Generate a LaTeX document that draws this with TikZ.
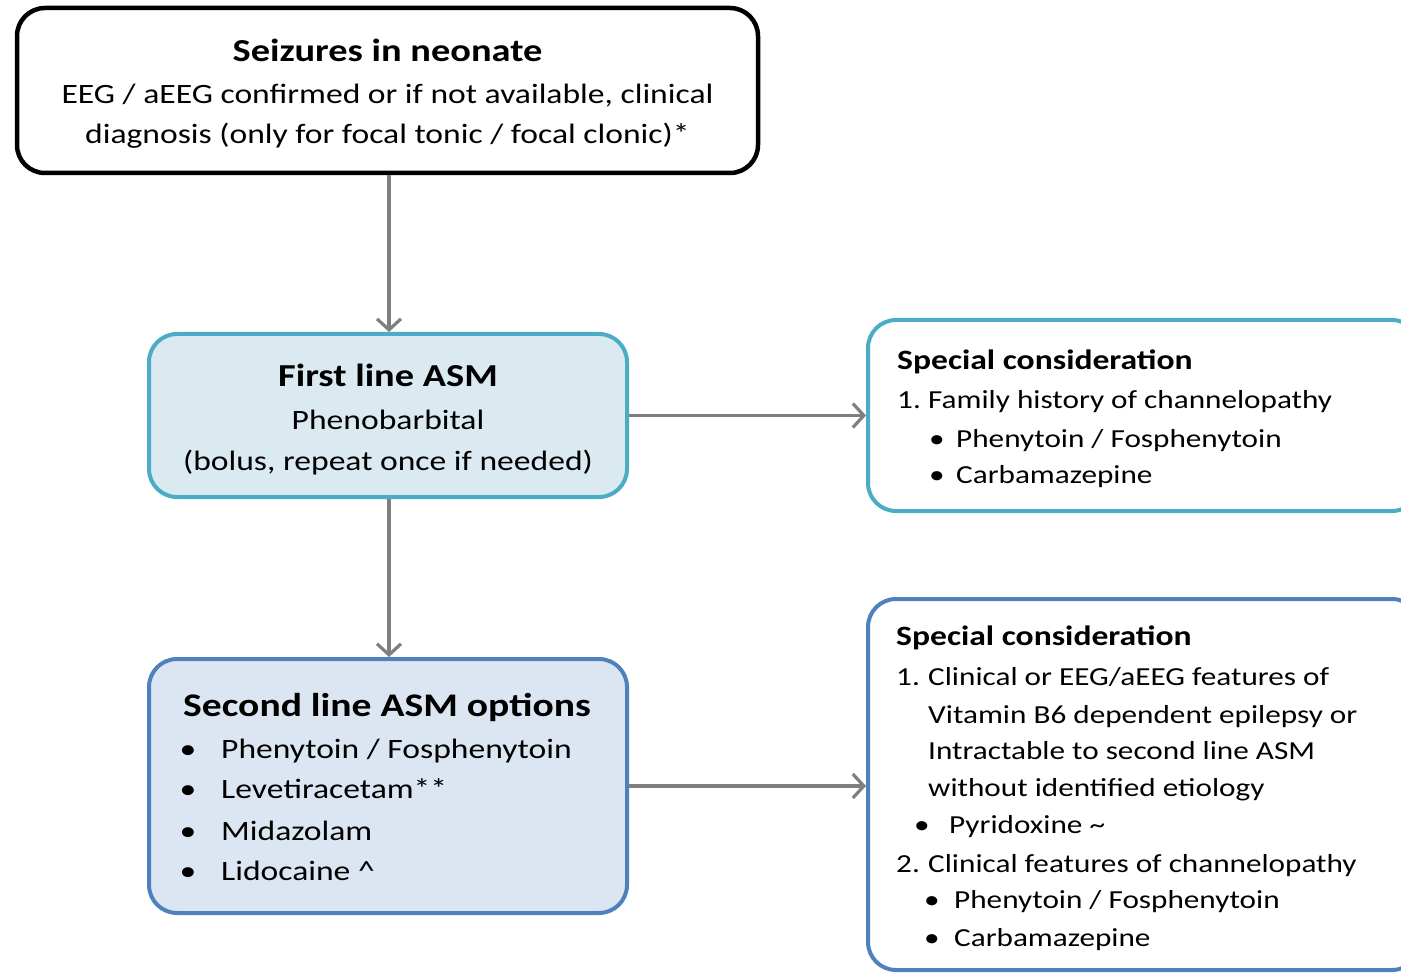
\documentclass[tikz,border=0pt]{standalone}
\usepackage{fontspec}
\setmainfont{Carlito}[FakeStretch=1.2]
\usetikzlibrary{arrows.meta}
\definecolor{tealB}{HTML}{4BACC6}
\definecolor{blueB}{HTML}{4F81BD}
\definecolor{fillA}{HTML}{DAEAF0}
\definecolor{fillB}{HTML}{DCE6F2}
\definecolor{arrowgray}{HTML}{7F7F7F}
\begin{document}
\begin{tikzpicture}[x=1pt,y=-1pt,
  box/.style={draw, line width=4pt, rounded corners=28pt, inner sep=0pt},
  conn/.style={draw=arrowgray, line width=3.5pt, -{Straight Barb[length=11pt,width=24pt,line width=3.2pt]}},
  ctxt/.style={anchor=base, inner sep=0pt},
  ltxt/.style={anchor=base west, inner sep=0pt},
  bigb/.style={font=\bfseries\fontsize{32}{37}\selectfont},
  bodyL/.style={font=\fontsize{28}{34}\selectfont},
  titR/.style={font=\bfseries\fontsize{28}{33}\selectfont},
  bodyR/.style={font=\fontsize{26}{31}\selectfont}]
\path[use as bounding box] (0,0) rectangle (1401,976);
\clip (0,0) rectangle (1401,976);
% boxes
\node[box, draw=black, line width=4.5pt, fill=white, minimum width=741pt, minimum height=165pt] (seiz) at (387.5,90.5) {};
\node[box, draw=tealB, fill=fillA, minimum width=478pt, minimum height=163pt] (first) at (388,415.5) {};
\node[box, draw=tealB, fill=white, minimum width=552pt, minimum height=191pt] (sc1) at (1144,415.5) {};
\node[box, draw=blueB, fill=fillB, minimum width=478pt, minimum height=254pt] (second) at (388,786) {};
\node[box, draw=blueB, fill=white, minimum width=552pt, minimum height=371pt] (sc2) at (1144,784.5) {};
% connectors
\draw[conn] (seiz.south -| 389,0) -- (389,0 |- first.north);
\draw[conn] (first.east) -- (first.east -| sc1.west);
\draw[conn] (389,0 |- first.south) -- (389,0 |- second.north);
\draw[conn] (second.east) -- (second.east -| sc2.west);
% box 1 text
\node[ctxt, bigb] (t1a) at (387.5,62) {Seizures in neonate};
\node[ctxt, bodyL] (t1b) at (387.5,104) {EEG / aEEG confirmed or if not available, clinical};
\node[ctxt, bodyL] (t1c) at (387.5,144) {diagnosis (only for focal tonic / focal clonic)*};
% box 2 text
\node[ctxt, bigb] (t2a) at (388,387) {First line ASM};
\node[ctxt, bodyL] (t2b) at (388,429) {Phenobarbital};
\node[ctxt, bodyL] (t2c) at (388,470) {(bolus, repeat once if needed)};
% box 4 text
\node[ltxt, font=\bfseries\fontsize{33}{38}\selectfont] (t4a) at (183,716) {Second line ASM options};
\node[ctxt, bodyL] (b4a) at (188,758) {•};
\node[ctxt, bodyL] (b4b) at (188,798) {•};
\node[ctxt, bodyL] (b4c) at (188,840) {•};
\node[ctxt, bodyL] (b4d) at (188,880) {•};
\node[ltxt, bodyL] (t4b) at (221,758) {Phenytoin / Fosphenytoin};
\node[ltxt, bodyL] (t4c) at (221,798) {Levetiracetam**};
\node[ltxt, bodyL] (t4d) at (221,840) {Midazolam};
\node[ltxt, bodyL] (t4e) at (221,880) {Lidocaine \^{}};
% box 3 text
\node[ltxt, titR] (t3a) at (897,370) {Special consideration};
\node[ltxt, bodyR] (t3b) at (897,408) {1.};
\node[ltxt, bodyR] (t3c) at (928,408) {Family history of channelopathy};
\node[ctxt, bodyR] (b3a) at (937,447) {•};
\node[ctxt, bodyR] (b3b) at (937,483) {•};
\node[ltxt, bodyR] (t3d) at (956,447) {Phenytoin / Fosphenytoin};
\node[ltxt, bodyR] (t3e) at (956,483) {Carbamazepine};
% box 5 text
\node[ltxt, titR] (t5a) at (896,645) {Special consideration};
\node[ltxt, bodyR] (t5b) at (896,685) {1.};
\node[ltxt, bodyR] (t5c) at (928,685) {Clinical or EEG/aEEG features of};
\node[ltxt, bodyR] (t5d) at (928,723) {Vitamin B6 dependent epilepsy or};
\node[ltxt, bodyR] (t5e) at (928,759) {Intractable to second line ASM};
\node[ltxt, bodyR] (t5f) at (928,796) {without identified etiology};
\node[ctxt, bodyR] (b5a) at (922,833) {•};
\node[ltxt, bodyR] (t5g) at (949,833) {Pyridoxine \textasciitilde};
\node[ltxt, bodyR] (t5h) at (896,872) {2.};
\node[ltxt, bodyR] (t5i) at (928,872) {Clinical features of channelopathy};
\node[ctxt, bodyR] (b5b) at (932,908) {•};
\node[ctxt, bodyR] (b5c) at (932,946) {•};
\node[ltxt, bodyR] (t5j) at (954,908) {Phenytoin / Fosphenytoin};
\node[ltxt, bodyR] (t5k) at (954,946) {Carbamazepine};
\end{tikzpicture}
\end{document}
